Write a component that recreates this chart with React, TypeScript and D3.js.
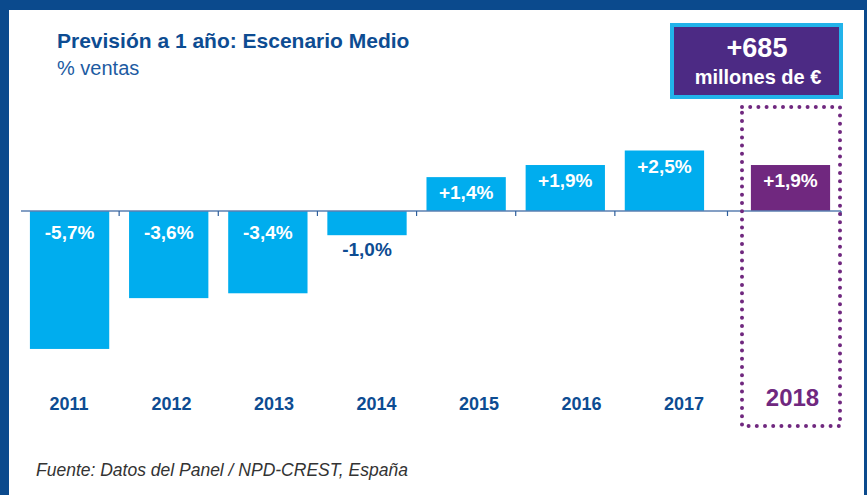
import React from "react";
import * as d3 from "d3";

// --- data ---
const histYears = ["2011", "2012", "2013", "2014", "2015", "2016", "2017"];
const histValues = [-5.7, -3.6, -3.4, -1.0, 1.4, 1.9, 2.5];
const forecastYears = ["2018"];
const forecastValues = [1.9];
const title = "Previsión a 1 año: Escenario Medio";
const subtitle = "% ventas";
const impactMain = "+685";
const impactSub = "millones de €";
const source = "Fuente: Datos del Panel / NPD-CREST, España";

const W = 867;
const H = 495;
const FONT = "'Liberation Sans', Arial, Helvetica, sans-serif";
const FRAME = "#0b4a8d";
const DARK_BLUE = "#0d4c92";
const CYAN = "#00adee";
const PURPLE = "#70287f";
const BOX_PURPLE = "#4c2a84";

const fmt = (v: number) => (v > 0 ? "+" : "") + v.toFixed(1).replace(".", ",") + "%";

export default function App() {
  // scales
  const y = d3.scaleLinear().domain([-6, 3]).range([356.2, 138.4]);
  const x = d3
    .scaleBand<string>()
    .domain(histYears)
    .range([20, 714])
    .paddingInner(0.2)
    .paddingOuter(0.1);
  const xF = d3
    .scaleBand<string>()
    .domain(forecastYears)
    .range([741, 840])
    .paddingInner(0.2)
    .paddingOuter(0.1);
  const xLabel = d3.scalePoint<string>().domain(histYears).range([69, 684]);

  const y0 = y(0);
  const axisStart = 21;
  const axisEnd = 841;
  const gap = x.step() * x.paddingInner();

  // tick marks between the bars
  const tickXs = [
    ...histYears.slice(1).map((d) => (x(d) as number) - gap / 2),
    ((x(histYears[histYears.length - 1]) as number) + x.bandwidth() + (xF(forecastYears[0]) as number)) / 2,
    axisEnd,
  ];

  const labelFor = (v: number, bx: number, bw: number, key: string) => {
    const cx = bx + bw / 2;
    const barH = Math.abs(y(v) - y0);
    if (v >= 0) {
      return (
        <text key={key} x={cx} y={y(v) + 22} textAnchor="middle" fill="#fff" fontSize={19} fontWeight="bold">
          {fmt(v)}
        </text>
      );
    }
    if (barH < 40) {
      return (
        <text key={key} x={cx} y={y(v) + 21} textAnchor="middle" fill={DARK_BLUE} fontSize={19} fontWeight="bold">
          {fmt(v)}
        </text>
      );
    }
    return (
      <text key={key} x={cx} y={y0 + 28} textAnchor="middle" fill="#fff" fontSize={19} fontWeight="bold">
        {fmt(v)}
      </text>
    );
  };

  const fxb = xF(forecastYears[0]) as number;

  return (
    <div style={{ position: "absolute", left: 0, top: 0 }}>
      <svg width={W} height={H} style={{ display: "block", fontFamily: FONT }}>
        {/* frame */}
        <rect x={0} y={0} width={W} height={H} fill={FRAME} />
        <rect x={9} y={10} width={W - 9 - 3} height={H - 10} fill="#fff" />

        {/* titles */}
        <text x={57} y={48} fill={DARK_BLUE} fontSize={21} fontWeight="bold">
          {title}
        </text>
        <text x={57} y={75} fill="#1d5ba2" fontSize={20}>
          {subtitle}
        </text>

        {/* historical bars */}
        {histYears.map((d, i) => {
          const v = histValues[i];
          return (
            <rect
              key={d}
              x={x(d)}
              y={Math.min(y(v), y0)}
              width={x.bandwidth()}
              height={Math.abs(y(v) - y0)}
              fill={CYAN}
            />
          );
        })}

        {/* forecast bar */}
        {forecastYears.map((d, i) => {
          const v = forecastValues[i];
          return (
            <rect
              key={d}
              x={xF(d)}
              y={Math.min(y(v), y0)}
              width={xF.bandwidth()}
              height={Math.abs(y(v) - y0)}
              fill={PURPLE}
            />
          );
        })}

        {/* axis */}
        <line x1={axisStart} x2={axisEnd} y1={y0} y2={y0} stroke="#5b7fb0" strokeWidth={1.5} />
        {tickXs.map((tx, i) => (
          <line key={i} x1={tx} x2={tx} y1={y0} y2={y0 + 5} stroke="#2d5e9c" strokeWidth={1.2} />
        ))}

        {/* value labels */}
        {histYears.map((d, i) => labelFor(histValues[i], x(d) as number, x.bandwidth(), "l" + d))}
        {forecastYears.map((d, i) => labelFor(forecastValues[i], xF(d) as number, xF.bandwidth(), "f" + d))}

        {/* year labels */}
        {histYears.map((d) => (
          <text key={"y" + d} x={xLabel(d)} y={410} textAnchor="middle" fill={DARK_BLUE} fontSize={18} fontWeight="bold">
            {d}
          </text>
        ))}
        {forecastYears.map((d) => (
          <text
            key={"fy" + d}
            x={fxb + xF.bandwidth() / 2 + 2}
            y={406}
            textAnchor="middle"
            fill={PURPLE}
            fontSize={24}
            fontWeight="bold"
          >
            {d}
          </text>
        ))}

        {/* dotted forecast frame */}
        <rect
          x={742}
          y={107}
          width={98}
          height={319}
          fill="none"
          stroke={PURPLE}
          strokeWidth={4}
          strokeLinecap="round"
          strokeDasharray="0 8.2"
        />

        {/* impact box */}
        <rect x={672} y={25} width={169} height={72} fill={BOX_PURPLE} stroke="#22b3ea" strokeWidth={4} />
        <text x={757} y={57} textAnchor="middle" fill="#fff" fontSize={27} fontWeight="bold">
          {impactMain}
        </text>
        <text x={758} y={84} textAnchor="middle" fill="#fff" fontSize={20} fontWeight="bold">
          {impactSub}
        </text>

        {/* source */}
        <text x={36} y={476} fill="#333" fontSize={17.5} fontStyle="italic">
          {source}
        </text>
      </svg>
    </div>
  );
}
